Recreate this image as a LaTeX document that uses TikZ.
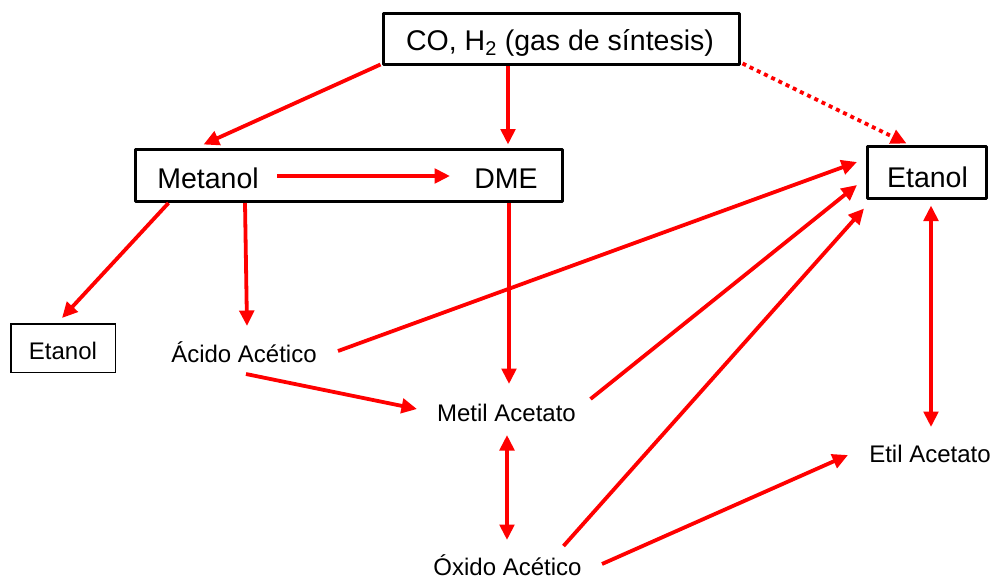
\documentclass[tikz,border=0pt]{standalone}
\usepackage{fontspec}
\setmainfont{Liberation Sans}
\usetikzlibrary{arrows.meta,calc}
\begin{document}
\begin{tikzpicture}[x=1pt,y=-1pt,
  arr/.style={draw=red, line width=3.8pt, -{Triangle[length=15.5pt,width=14.5pt]}},
  darr/.style={draw=red, line width=3.8pt, {Triangle[length=15.5pt,width=14.5pt]}-{Triangle[length=15.5pt,width=14.5pt]}},
  dotarr/.style={arr, dash pattern=on 4pt off 4pt},
  bigbox/.style={draw, line width=3pt, inner sep=0pt, line join=round},
  smallbox/.style={draw, line width=1.5pt, inner sep=0pt},
  bigtxt/.style={font=\fontsize{28.5}{32}\selectfont, inner sep=0pt, anchor=base},
  smtxt/.style={font=\fontsize{24}{28}\selectfont, inner sep=0pt, anchor=base}]
\useasboundingbox (0,0) rectangle (992,581);

% boxes
\node[bigbox, minimum width=356pt, minimum height=51pt] (syn) at (561.5,39) {};
\node[bigbox, minimum width=427pt, minimum height=52pt] (mb) at (349,175.5) {};
\node[bigbox, minimum width=119pt, minimum height=52pt] (etb) at (927,172.5) {};
\node[smallbox, minimum width=104.5pt, minimum height=48.5pt] (ets) at (63,348) {};

% labels
\node[bigtxt] (syntxt) at (560,50) {CO, H\textsubscript{2} (gas de síntesis)};
\node[bigtxt] (met) at (208,188) {Metanol};
\node[bigtxt] (dme) at (506,188) {DME};
\node[bigtxt] (etbt) at (927.5,187) {Etanol};
\node[smtxt] (etst) at (63,359) {Etanol};
\node[smtxt] (aac) at (244,362) {Ácido Acético};
\node[smtxt] (mac) at (506.5,421) {Metil Acetato};
\node[smtxt] (oac) at (507.5,575) {Óxido Acético};
\node[smtxt] (eac) at (930,462) {Etil Acetato};

% connectors
\draw[arr] ($(syn.south west)+(-1.5,-1.5)$) -- ($(mb.north west)+(69.5,-3.5)$);
\draw[arr] ($(syn.south)+(-53.5,0)$) -- ($(mb.north)+(159,-3.5)$);
\draw[dotarr] ($(syn.south east)+(1.5,-2.5)$) -- ($(etb.north west)+(40.5,-1.5)$);
\draw[arr] ($(met.base)+(69,-12)$) -- ($(dme.base)+(-56,-12)$);
\draw[arr] ($(mb.south west)+(34.5,0)$) -- ($(ets.north)+(-1,-5)$);
\draw[arr] ($(mb.south west)+(111,0)$) -- ($(aac.base)+(3,-36)$);
\draw[arr] ($(mb.south)+(160,0)$) -- ($(mac.base)+(2.5,-37)$);
\draw[arr] ($(aac.base)+(94,-11)$) -- ($(etb.west)+(-9,-10.5)$);
\draw[arr] ($(aac.base)+(2,12)$) -- ($(mac.base)+(-89.5,-12)$);
\draw[arr] ($(mac.base)+(84,-22)$) -- ($(etb.west)+(-9,12.5)$);
\draw[darr] ($(mac.base)+(0.5,14)$) -- ($(oac.base)+(-0.5,-35)$);
\draw[arr] ($(oac.base)+(56,-29)$) -- ($(etb.south west)+(-2,8.5)$);
\draw[arr] ($(oac.base)+(94.5,-11)$) -- ($(eac.base)+(-82,-7)$);
\draw[darr] ($(etb.south)+(4,5.5)$) -- ($(eac.base)+(1,-35)$);
\end{tikzpicture}
\end{document}
